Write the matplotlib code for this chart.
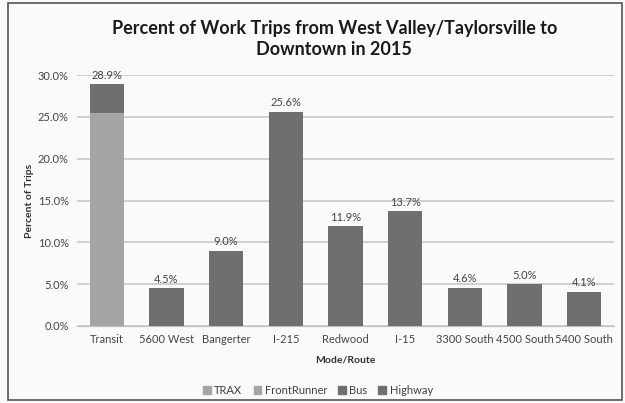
import matplotlib
matplotlib.use("Agg")
import matplotlib.pyplot as plt
from matplotlib.patches import Rectangle, Patch
import numpy as np

categories = ["Transit", "5600 West", "Bangerter", "I-215", "Redwood", "I-15",
              "3300 South", "4500 South", "5400 South"]
trax = [20.0, 0, 0, 0, 0, 0, 0, 0, 0]
frontrunner = [5.5, 0, 0, 0, 0, 0, 0, 0, 0]
bus = [3.4, 0, 0, 0, 0, 0, 0, 0, 0]
highway = [0, 4.5, 9.0, 25.6, 11.9, 13.7, 4.6, 5.0, 4.1]
totals = [28.9, 4.5, 9.0, 25.6, 11.9, 13.7, 4.6, 5.0, 4.1]
yticks = [0, 5, 10, 15, 20, 25, 30]

plt.rcParams['font.family'] = ['Lato', 'DejaVu Sans']
fig = plt.figure(figsize=(6.25, 4.03), dpi=100, facecolor='#fafafa')
fig.patches.append(Rectangle((0.012, 0.008), 0.983, 0.985, transform=fig.transFigure,
                             fill=False, edgecolor='#555555', linewidth=1.2))

ax = fig.add_axes([77/625, 1-326/403, (614-77)/625, (326-75)/403])
ax.set_facecolor('#fafafa')
x = np.arange(len(categories))
w = 0.57
light = '#a5a5a5'
dark = '#6f6f6f'
ax.bar(x, trax, w, color=light, zorder=3)
ax.bar(x, frontrunner, w, bottom=trax, color=light, zorder=3)
bot = np.array(trax) + np.array(frontrunner)
ax.bar(x, bus, w, bottom=bot, color=dark, zorder=3)
bot = bot + np.array(bus)
ax.bar(x, highway, w, bottom=bot, color=dark, zorder=3)

for xi, t in zip(x, totals):
    ax.text(xi, t + 0.4, f"{t:.1f}%", ha='center', va='bottom', fontsize=8, color='#454545')

ax.set_xlim(-0.5, len(categories) - 0.5)
ax.set_ylim(0, 30)
ax.set_yticks(yticks)
ax.set_yticklabels([f"{v:.1f}%" for v in yticks], fontsize=8, color='#454545')
ax.set_xticks(x)
ax.set_xticklabels(categories, fontsize=8, color='#454545')
ax.tick_params(length=0, pad=6)
ax.yaxis.grid(True, color='#c8c8c8', linewidth=1.2, zorder=0)
for s in ['top', 'right', 'left']:
    ax.spines[s].set_visible(False)
ax.spines['bottom'].set_color('#c0c0c0')

ax.set_xlabel("Mode/Route", fontsize=7.5, fontweight='bold', color='#303030', labelpad=7)
ax.set_ylabel("Percent of Trips", fontsize=7.5, fontweight='bold', color='#303030', labelpad=3)

fig.text(0.535, 1-39/403, "Percent of Work Trips from West Valley/Taylorsville to\nDowntown in 2015",
         ha='center', va='center', fontsize=13, fontweight='bold', color='#1a1a1a', linespacing=1.35)

handles = [Patch(color=light, label='TRAX'), Patch(color=light, label='FrontRunner'),
           Patch(color=dark, label='Bus'), Patch(color=dark, label='Highway')]
fig.legend(handles=handles, loc='center', bbox_to_anchor=(318/625, 1-390/403), ncol=4,
           frameon=False, fontsize=8, handlelength=0.7, handleheight=0.7,
           handletextpad=0.3, columnspacing=1.0, labelcolor='#404040')

fig.savefig("out.png", dpi=100, facecolor=fig.get_facecolor())
